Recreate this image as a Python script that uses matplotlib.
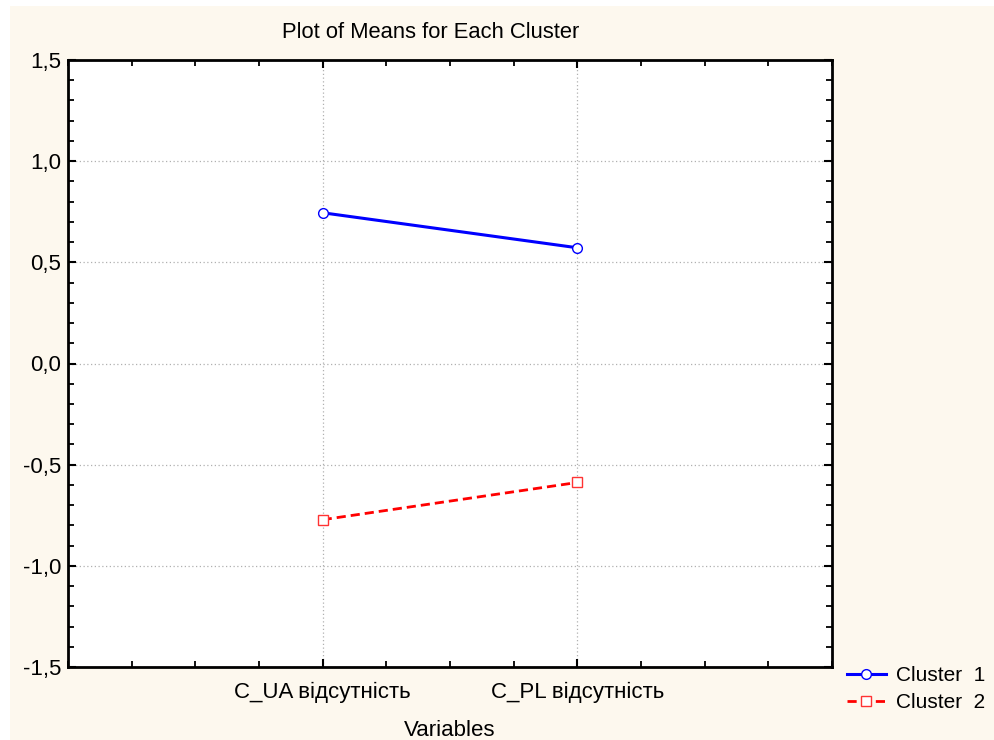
import matplotlib
matplotlib.use("Agg")
import matplotlib.pyplot as plt
from matplotlib.ticker import MultipleLocator, FixedLocator, FuncFormatter
from matplotlib.patches import Rectangle

plt.rcParams['font.family'] = ['Liberation Sans', 'DejaVu Sans']

categories = ["C_UA відсутність", "C_PL відсутність"]
cluster1 = [0.745, 0.572]
cluster2 = [-0.772, -0.588]
series_names = ["Cluster  1", "Cluster  2"]
yticks = [-1.5, -1.0, -0.5, 0.0, 0.5, 1.0, 1.5]

W, H = 994, 740
fig = plt.figure(figsize=(W/100, H/100), dpi=100)
fig.patch.set_facecolor('white')
fig.patches.append(Rectangle((10/W, 0), 1 - 10/W, 1 - 6/H, transform=fig.transFigure,
                             facecolor='#fdf8ee', edgecolor='none', zorder=-10))

ax = fig.add_axes([68/W, 1 - 667/H, (832-68)/W, (667-60)/H])
ax.set_facecolor('white')

x = [1, 2]
l1, = ax.plot(x, cluster1, color='#0000ff', lw=2.2, marker='o', ms=7, mfc='white',
              mec='#0000ff', mew=1.0, zorder=3, label=series_names[0])
l2, = ax.plot(x, cluster2, color='#ff0000', lw=2.0, ls=(0, (3.3, 1.8)), marker='s', ms=7.5, mfc='white',
              mec='#ff3333', mew=1.0, zorder=3, label=series_names[1])

ax.set_xlim(0, 3)
ax.set_ylim(-1.5, 1.5)
ax.xaxis.set_major_locator(FixedLocator(x))
ax.set_xticklabels(categories)
ax.xaxis.set_minor_locator(MultipleLocator(0.25))
ax.yaxis.set_major_locator(FixedLocator(yticks))
ax.yaxis.set_minor_locator(MultipleLocator(0.1))
ax.yaxis.set_major_formatter(FuncFormatter(lambda v, p: f"{v:.1f}".replace('.', ',')))

ax.grid(True, which='major', color='#b0b0b0', ls=(0, (1, 2)), lw=0.9)
ax.tick_params(which='both', direction='in', top=True, right=True, color='black')
ax.tick_params(which='major', length=6, width=1.5, labelsize=16, pad=5)
ax.tick_params(which='minor', length=4, width=1.3)
ax.tick_params(axis='x', which='major', pad=11)
for s in ax.spines.values():
    s.set_linewidth(2)
    s.set_color('black')

fig.text(431/W, 1 - 33/H, "Plot of Means for Each Cluster", ha='center', va='center', fontsize=15.8)
ax.set_xlabel("Variables", fontsize=16, labelpad=12)

leg = fig.legend(handles=[l1, l2], loc='center left', bbox_to_anchor=(847/W, 1 - 689/H),
                 frameon=False, fontsize=15, handlelength=1.85, handletextpad=0.5,
                 labelspacing=0.4, borderpad=0, borderaxespad=0)

fig.savefig("out.png", dpi=100)
